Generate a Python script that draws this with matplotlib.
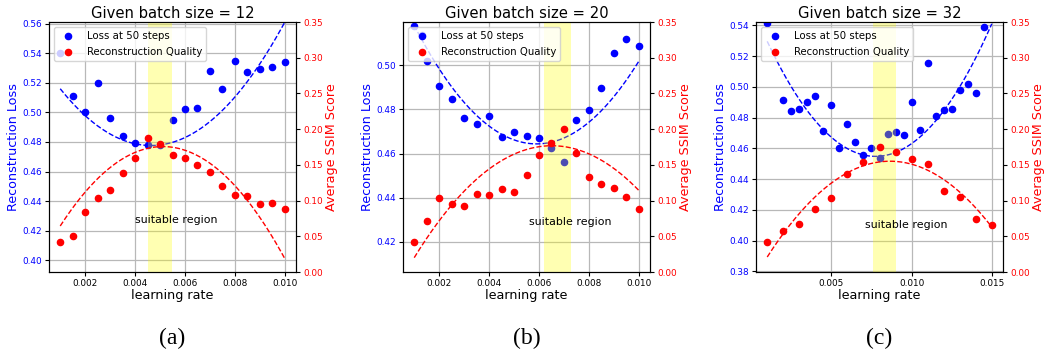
import numpy as np
import matplotlib
matplotlib.use("Agg")
import matplotlib.pyplot as plt

# ---------------- data ----------------
titles = ["Given batch size = 12", "Given batch size = 20", "Given batch size = 32"]
captions = ["(a)", "(b)", "(c)"]

lr_a = [0.001, 0.0015, 0.002, 0.0025, 0.003, 0.0035, 0.004, 0.0045, 0.005, 0.0055,
        0.006, 0.0065, 0.007, 0.0075, 0.008, 0.0085, 0.009, 0.0095, 0.010]
loss_a = [0.540, 0.511, 0.500, 0.520, 0.496, 0.484, 0.479, 0.478, 0.478, 0.495,
          0.502, 0.503, 0.528, 0.516, 0.535, 0.527, 0.529, 0.531, 0.534]
ssim_a = [0.0425, 0.051, 0.0836, 0.1036, 0.1148, 0.1386, 0.1596, 0.1871, 0.1797, 0.1638,
          0.1591, 0.1503, 0.1395, 0.1209, 0.1083, 0.1069, 0.0947, 0.0962, 0.0882]

lr_b_loss = [0.001, 0.0013, 0.0015, 0.002, 0.0025, 0.003, 0.0035, 0.004, 0.0045, 0.005,
             0.0055, 0.006, 0.0065, 0.007, 0.0075, 0.008, 0.0085, 0.009, 0.0095, 0.010]
loss_b = [0.5177, 0.5136, 0.5018, 0.4908, 0.4846, 0.4763, 0.4733, 0.4769, 0.4674, 0.4700,
          0.4682, 0.4669, 0.4627, 0.4561, 0.4752, 0.4796, 0.4896, 0.5057, 0.5118, 0.5089]
lr_b = [0.001, 0.0015, 0.002, 0.0025, 0.003, 0.0035, 0.004, 0.0045, 0.005, 0.0055,
        0.006, 0.0065, 0.007, 0.0075, 0.008, 0.0085, 0.009, 0.0095, 0.010]
ssim_b = [0.0425, 0.0709, 0.1036, 0.0957, 0.0924, 0.1092, 0.1073, 0.1157, 0.1115, 0.1358,
          0.1638, 0.1806, 0.2002, 0.1661, 0.1335, 0.1227, 0.1171, 0.1050, 0.0882]

lr_c_loss = [0.001, 0.002, 0.0025, 0.003, 0.0035, 0.004, 0.0045, 0.005, 0.0055, 0.006,
             0.0065, 0.007, 0.0075, 0.008, 0.0085, 0.009, 0.0095, 0.010, 0.0105, 0.011,
             0.0115, 0.012, 0.0125, 0.013, 0.0135, 0.014, 0.0145]
loss_c = [0.5417, 0.4914, 0.4845, 0.4858, 0.4901, 0.4940, 0.4715, 0.4884, 0.4604, 0.4758,
          0.4643, 0.4559, 0.4602, 0.4535, 0.4693, 0.4704, 0.4687, 0.4901, 0.4719, 0.5157,
          0.4810, 0.4847, 0.4854, 0.4977, 0.5018, 0.4958, 0.5389]
lr_c = [0.001, 0.002, 0.003, 0.004, 0.005, 0.006, 0.007, 0.008, 0.009, 0.010,
        0.011, 0.012, 0.013, 0.014, 0.015]
ssim_c = [0.0425, 0.0579, 0.0672, 0.0877, 0.1036, 0.1377, 0.1535, 0.1745, 0.1680, 0.1577,
          0.1507, 0.1134, 0.1050, 0.0747, 0.0658]

# quadratic fit curves (vertex form: a, h, k)
loss_fit = [(2900.0, 0.004638, 0.4776), (2230.0, 0.005904, 0.4644), (1641.0, 0.007752, 0.4548)]
ssim_fit = [(-6569.0, 0.005114, 0.1756), (-5151.0, 0.006516, 0.1768), (-2288.0, 0.008656, 0.1551)]
fit_range = [(0.001, 0.010), (0.001, 0.010), (0.001, 0.015)]

spans = [(0.0045, 0.0055), (0.0062, 0.0073), (0.0076, 0.009)]
text_pos = [(0.0040, 0.4270), (0.0056, 0.4290), (0.0071, 0.4104)]
left_ylim = [(0.3921, 0.5611), (0.4064, 0.5196), (0.3796, 0.5422)]
xticks = [[0.002, 0.004, 0.006, 0.008, 0.010],
          [0.002, 0.004, 0.006, 0.008, 0.010],
          [0.005, 0.010, 0.015]]

panels = [
    (lr_a, loss_a, lr_a, ssim_a),
    (lr_b_loss, loss_b, lr_b, ssim_b),
    (lr_c_loss, loss_c, lr_c, ssim_c),
]

# ---------------- figure ----------------
W, H = 1045, 351
fig = plt.figure(figsize=(W / 100, H / 100), dpi=100)

ax_left_px = [49, 403, 756]
ax_w_px = 247
ax_top_px, ax_bot_px = 22, 272

for i, (xl, yl, xs, ys) in enumerate(panels):
    ax = fig.add_axes([ax_left_px[i] / W, (H - ax_bot_px) / H, ax_w_px / W,
                       (ax_bot_px - ax_top_px) / H])
    ax2 = ax.twinx()

    ax.grid(True, color="#b8b8b8", linewidth=0.9)
    ax.set_axisbelow(True)
    h1 = ax.scatter(xl, yl, s=20, color="blue", label="Loss at 50 steps", zorder=3)
    x0, x1 = fit_range[i]
    xf = np.linspace(x0, x1, 200)
    a, hh, k = loss_fit[i]
    ax.plot(xf, a * (xf - hh) ** 2 + k, "--", color="blue", lw=1.0, zorder=3)

    ax2.axvspan(spans[i][0], spans[i][1], color="yellow", alpha=0.3, lw=0, zorder=1)
    h2 = ax2.scatter(xs, ys, s=20, color="red", label="Reconstruction Quality", zorder=3)
    a, hh, k = ssim_fit[i]
    ax2.plot(xf, a * (xf - hh) ** 2 + k, "--", color="red", lw=1.0, zorder=3)
    ax2.text(text_pos[i][0], text_pos[i][1], "suitable region", fontsize=7.9,
             va="center", ha="left", transform=ax.transData, zorder=4)

    ax.set_ylim(*left_ylim[i])
    ax2.set_ylim(0, 0.35)
    ax.set_xticks(xticks[i])
    ax.set_xticklabels(["%.3f" % v for v in xticks[i]])
    ax.set_yticks(np.arange(np.ceil(left_ylim[i][0] * 50) / 50, left_ylim[i][1] + 1e-9, 0.02))
    ax.set_yticklabels(["%.2f" % v for v in ax.get_yticks()])
    ax2.set_yticks(np.arange(0, 0.351, 0.05))
    ax2.set_yticklabels(["%.2f" % v for v in ax2.get_yticks()])

    ax.tick_params(axis="both", labelsize=6.4, length=3, width=0.8, pad=2)
    ax.tick_params(axis="y", labelcolor="blue")
    ax2.tick_params(axis="y", labelsize=6.4, length=3, width=0.8, pad=2, labelcolor="red")

    ax.set_xlabel("learning rate", fontsize=9.2, labelpad=1)
    ax.set_ylabel("Reconstruction Loss", fontsize=9.2, color="blue", labelpad=2)
    ax2.set_ylabel("Average SSIM Score", fontsize=9.2, color="red", labelpad=2)
    ax.set_title(titles[i], fontsize=10.6, pad=3)

    ax2.legend(handles=[h1, h2], loc="upper left", fontsize=7.3,
               borderaxespad=0.5, handletextpad=0.8, labelspacing=0.55)

    cx = (ax_left_px[i] + ax_w_px / 2) / W
    fig.text(cx, 1 - 338 / H, captions[i], ha="center", va="center",
             fontsize=17, family="Liberation Serif")

fig.savefig("out.png", dpi=100)
